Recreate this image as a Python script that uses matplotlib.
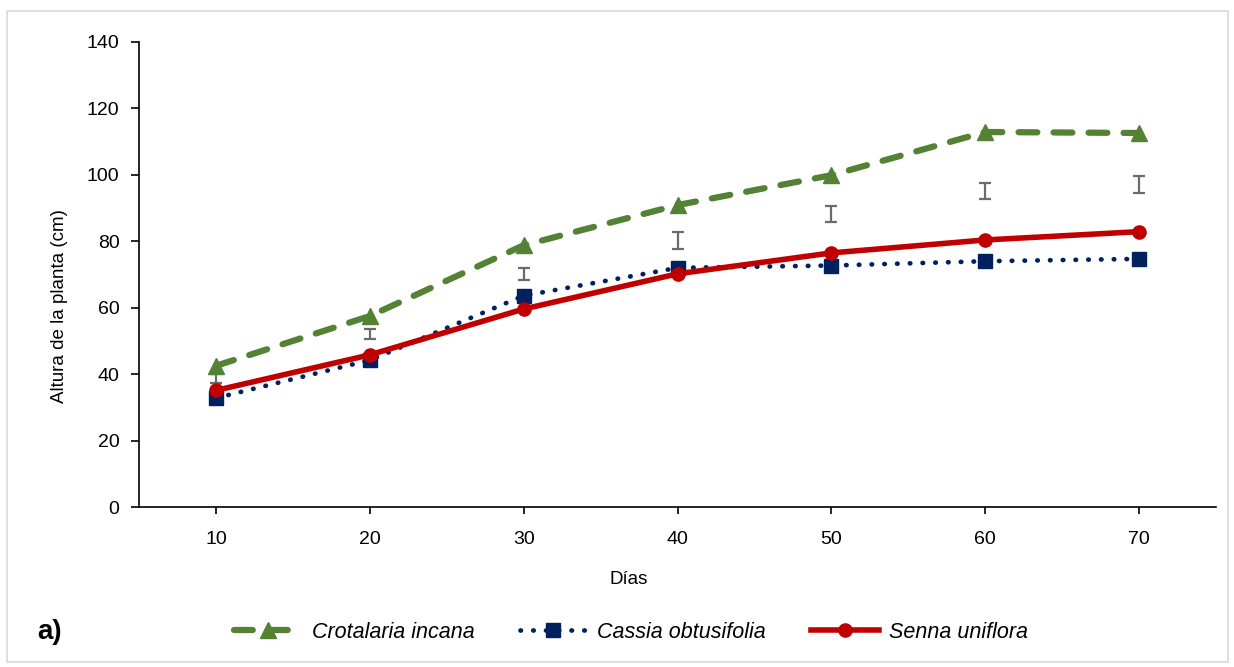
import numpy as np
import matplotlib
matplotlib.use("Agg")
import matplotlib.pyplot as plt
from matplotlib.patches import Rectangle

plt.rcParams['font.family'] = ['Liberation Sans', 'DejaVu Sans']

# Data
dias = [10, 20, 30, 40, 50, 60, 70]
crotalaria = [42.5, 57.5, 78.8, 90.9, 99.9, 112.9, 112.6]
cassia = [32.8, 44.2, 63.6, 72.0, 72.7, 74.0, 74.7]
senna = [35.1, 45.8, 59.6, 70.2, 76.5, 80.4, 82.9]

# vertical bars (centre and half-length) drawn between the series
barra_centro = [38.7, 52.1, 70.2, 80.2, 88.2, 95.2, 97.1]
barra_error = [1.4, 1.5, 1.8, 2.6, 2.4, 2.4, 2.6]

fig = plt.figure(figsize=(12.34, 6.67), dpi=100)
ax = fig.add_axes([139/1234, 1-507/667, (1216-139)/1234, (507-42)/667])

# frame around the whole figure
fig.patches.append(Rectangle((7/1234, 5/667), 1221/1234, 651/667, transform=fig.transFigure,
                             fill=False, edgecolor='#d9d9d9', linewidth=1.2))

ax.errorbar(dias, barra_centro, yerr=barra_error, fmt='none', ecolor='#6b6b6b',
            elinewidth=1.6, capsize=4.3, capthick=1.6, zorder=2)

ax.plot(dias, crotalaria, color='#548235', linestyle=(0, (3, 2.6)), linewidth=4.5,
        marker='^', markersize=11.5, dash_capstyle='round',
        label='Crotalaria incana', zorder=3)
ax.plot(dias, cassia, color='#002060', linestyle=(0, (0.1, 2.6)), linewidth=3.4,
        dash_capstyle='round', marker='s', markersize=10,
        label='Cassia obtusifolia', zorder=4)
ax.plot(dias, senna, color='#c00000', linestyle='-', linewidth=4,
        marker='o', markersize=9.5, label='Senna uniflora', zorder=5)

ax.set_xlim(5, 75)
ax.set_ylim(0, 140)
ax.set_yticks(np.arange(0, 141, 20))
ax.set_xticks(dias)
ax.tick_params(axis='x', which='major', length=5, width=1.2, labelsize=14, pad=12)
ax.tick_params(axis='y', which='major', length=6, width=1.2, labelsize=14, pad=8)
for s in ['top', 'right']:
    ax.spines[s].set_visible(False)
for s in ['left', 'bottom']:
    ax.spines[s].set_linewidth(1.2)

fig.text(60/1234, 1-306/667, 'Altura de la planta (cm)', fontsize=13.5,
         rotation=90, ha='center', va='center')
fig.text(629/1234, 1-580/667, 'Días', fontsize=13.5, ha='center', va='center')

leg = fig.legend(loc='center', bbox_to_anchor=(631/1234, 1-632/667), ncol=3,
                 frameon=False, handlelength=3.15, columnspacing=2.1,
                 handletextpad=0.47, prop={'style': 'italic', 'size': 15.5})

fig.text(37/1234, 1-632/667, 'a)', fontsize=20, fontweight='bold', va='center')

fig.savefig('out.png', dpi=100)
